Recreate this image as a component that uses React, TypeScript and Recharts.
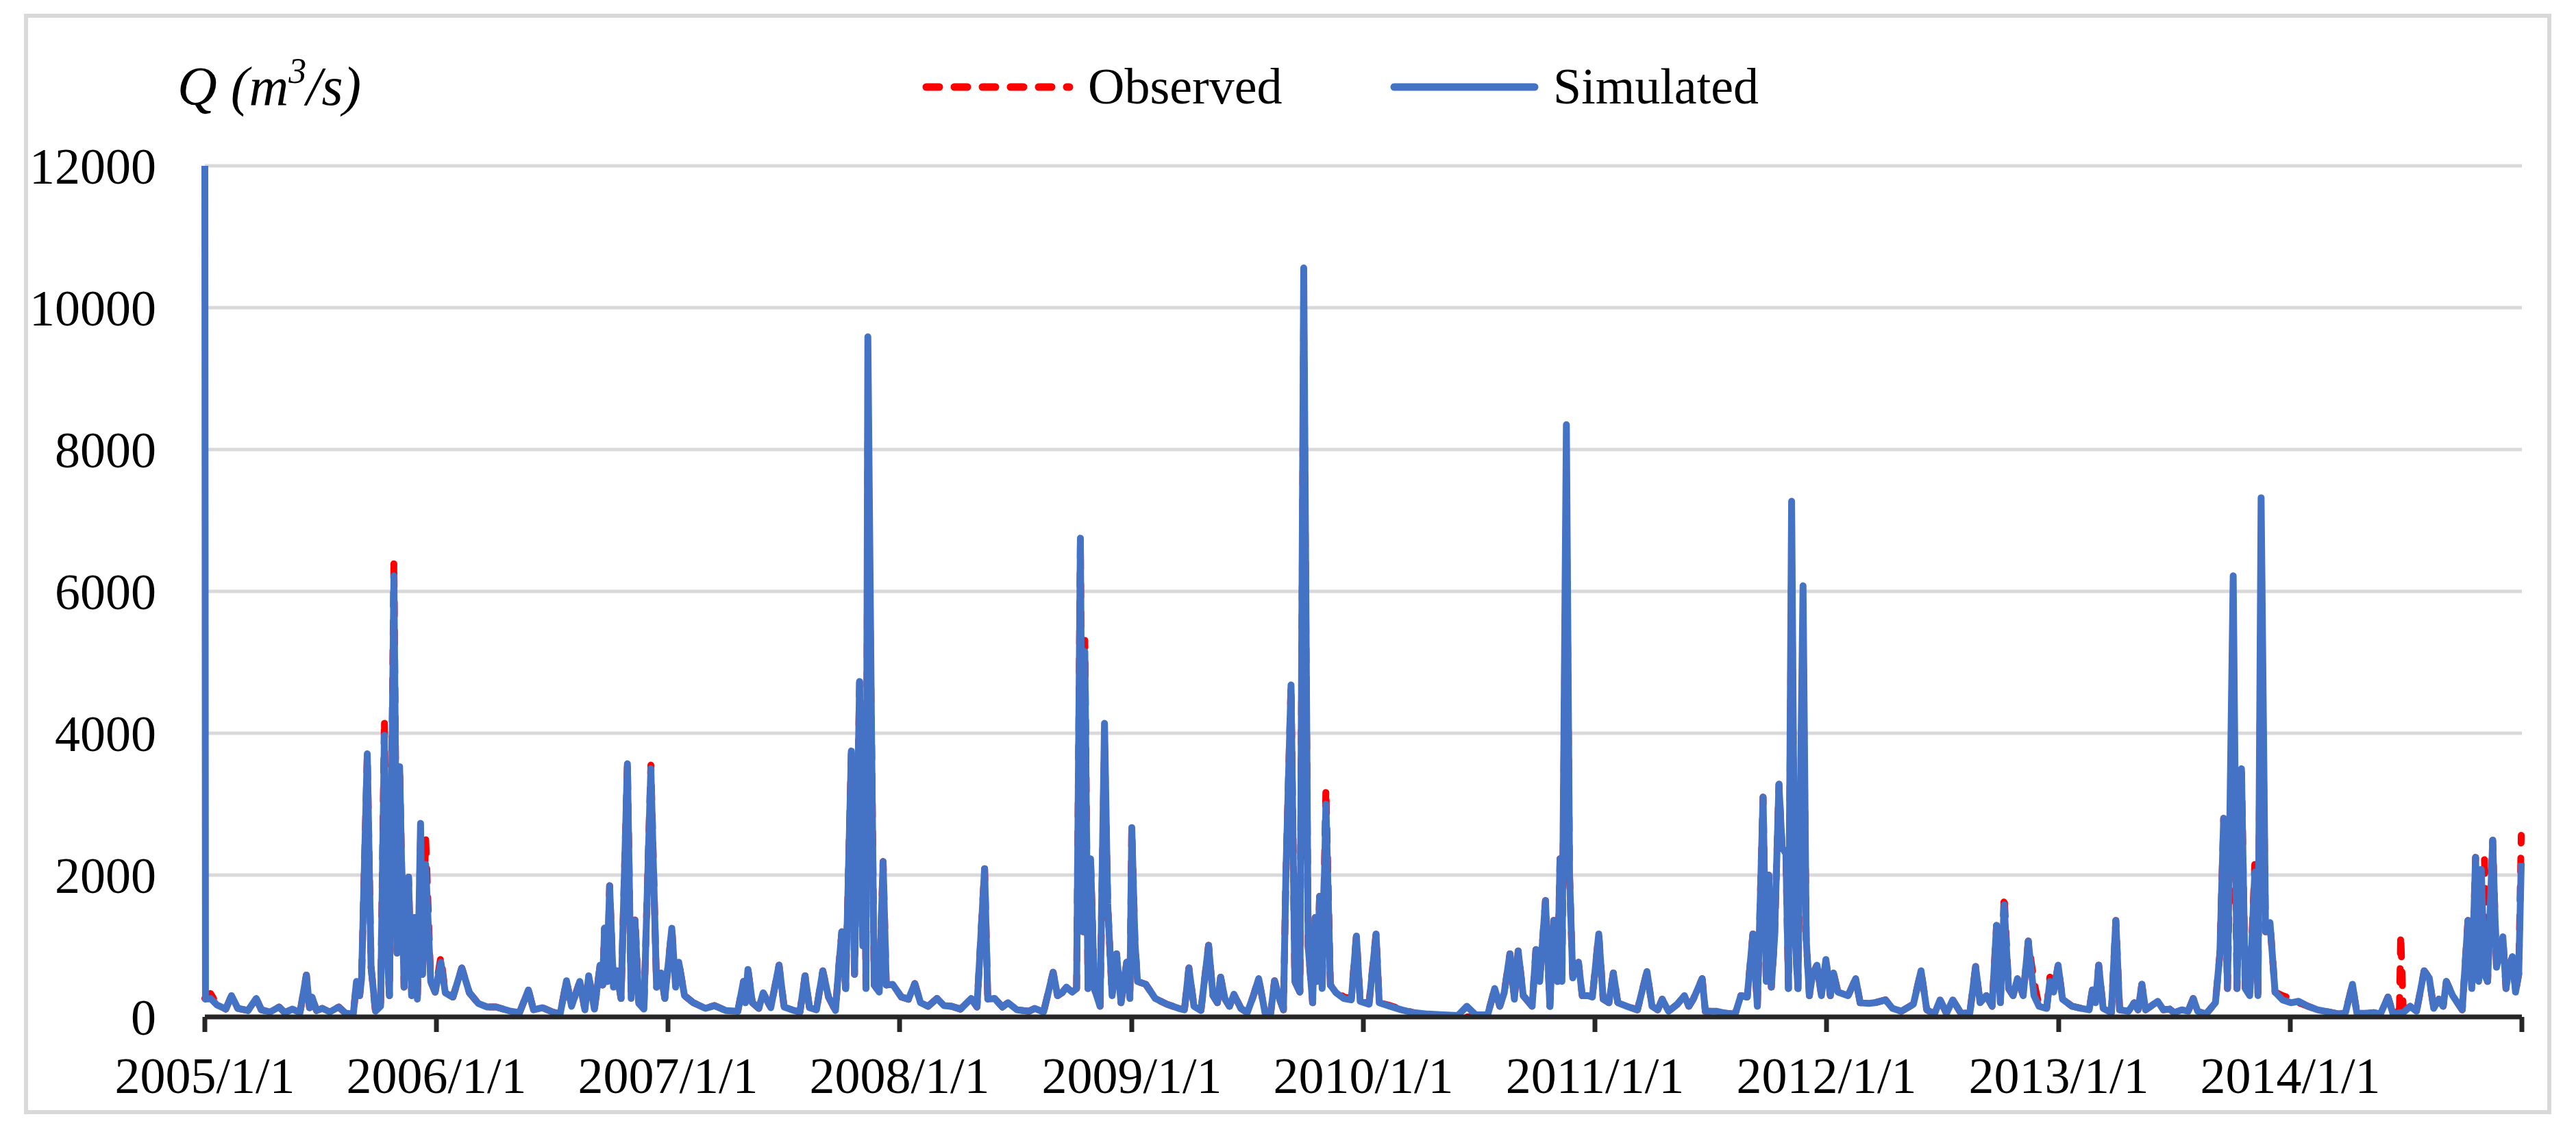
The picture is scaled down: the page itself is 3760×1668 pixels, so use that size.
import React from 'react';
import { LineChart, Line, XAxis, YAxis, CartesianGrid } from 'recharts';

const days = [
  // 2005
  0, 1, 9, 19, 33, 42, 52, 68, 81, 89,
  103, 117, 126, 138, 150, 160, 165, 169, 176, 185,
  197, 211, 222, 234, 239, 244, 247, 256, 262, 269,
  277, 283, 287, 291, 298, 303, 307, 314, 321, 326,
  330, 335, 340, 343, 348, 356, 363,
  // 2006
  372, 379, 391, 405, 417, 431, 445, 459, 482, 496,
  510, 518, 532, 548, 560, 570, 578, 591, 599, 605,
  614, 623, 627, 630, 634, 638, 644, 649, 656, 666,
  672, 678, 684, 692, 703, 712, 719, 725,
  // 2007
  736, 742, 747, 756, 770, 789, 803, 821, 840, 849,
  852, 856, 863, 873, 880, 892, 905, 913, 929, 938,
  946, 953, 964, 974, 983, 994, 999, 1004, 1010, 1019,
  1024, 1032, 1037, 1040, 1042, 1045, 1051, 1055, 1063, 1069,
  1074, 1084,
  // 2008
  1098, 1109, 1119, 1128, 1140, 1154, 1165, 1177, 1191, 1208,
  1217, 1229, 1234, 1245, 1257, 1266, 1280, 1299, 1308, 1322,
  1337, 1344, 1351, 1358, 1367, 1374, 1380, 1384, 1387, 1392,
  1396, 1402, 1411, 1418, 1423, 1430, 1437, 1444, 1453, 1458,
  // 2009
  1461, 1466, 1470, 1483, 1498, 1516, 1535, 1544, 1551, 1559,
  1570, 1582, 1589, 1596, 1601, 1608, 1615, 1622, 1633, 1643,
  1652, 1661, 1671, 1680, 1686, 1694, 1700, 1704, 1712, 1718,
  1726, 1732, 1739, 1746, 1750, 1753, 1757, 1761, 1767, 1774,
  1783, 1795, 1807, 1815, 1821,
  // 2010
  1835, 1846, 1851, 1868, 1886, 1905, 1928, 1952, 1975, 1989,
  2003, 2022, 2033, 2041, 2048, 2057, 2064, 2070, 2078, 2092,
  2098, 2104, 2113, 2120, 2126, 2132, 2136, 2139, 2146, 2151,
  2156, 2165, 2171, 2180, 2187,
  // 2011
  2197, 2204, 2213, 2220, 2227, 2241, 2258, 2273, 2281, 2290,
  2297, 2307, 2321, 2332, 2339, 2346, 2360, 2365, 2382, 2398,
  2412, 2421, 2431, 2440, 2447, 2456, 2461, 2465, 2469, 2474,
  2481, 2486, 2492, 2496, 2501, 2506, 2511, 2519, 2524, 2529,
  2534, 2541, 2548, 2555,
  // 2012
  2562, 2567, 2574, 2590, 2602, 2609, 2623, 2632, 2649, 2660,
  2674, 2693, 2705, 2714, 2726, 2735, 2745, 2755, 2768, 2782,
  2791, 2798, 2808, 2817, 2824, 2830, 2836, 2843, 2850, 2857,
  2866, 2874, 2883, 2891, 2903, 2908, 2914, 2921,
  // 2013
  2928, 2943, 2958, 2970, 2975, 2980, 2985, 2992, 3005, 3012,
  3018, 3032, 3041, 3047, 3053, 3059, 3067, 3078, 3087, 3097,
  3104, 3116, 3126, 3134, 3141, 3154, 3169, 3176, 3182, 3188,
  3197, 3203, 3210, 3216, 3223, 3231, 3236, 3241, 3248, 3255,
  3263, 3275,
  // 2014
  3288, 3300, 3315, 3330, 3347, 3364, 3374, 3385, 3392, 3409,
  3419, 3429, 3441, 3449, 3459, 3461, 3465, 3476, 3486, 3498,
  3506, 3513, 3521, 3528, 3533, 3543, 3558, 3567, 3573, 3579,
  3584, 3588, 3593, 3598, 3606, 3612, 3617, 3622, 3627, 3632,
  3637, 3642, 3647, 3651,
];

const observed = [
  // 2005
  260, 280, 330, 180, 110, 300, 120, 90, 260, 100,
  70, 140, 60, 110, 60, 590, 130, 280, 90, 120,
  70, 140, 50, 40, 480, 300, 540, 3700, 700, 60,
  150, 4200, 1000, 300, 6430, 900, 3530, 420, 1970, 300,
  1400, 250, 2500, 600, 2550, 500, 350,
  // 2006
  850, 340, 280, 690, 340, 190, 140, 140, 80, 60,
  380, 100, 130, 70, 40, 510, 150, 500, 100, 580,
  110, 730, 450, 1250, 500, 1850, 420, 650, 260, 3570,
  260, 1400, 190, 110, 3550, 420, 620, 260,
  // 2007
  1250, 420, 770, 300, 200, 120, 160, 90, 80, 500,
  200, 670, 200, 120, 340, 130, 730, 140, 90, 70,
  580, 130, 100, 650, 280, 90, 690, 1200, 400, 3750,
  600, 4730, 1000, 3500, 400, 8100, 3810, 450, 350, 2190,
  450, 460,
  // 2008
  280, 250, 470, 200, 150, 260, 160, 150, 110, 260,
  140, 2090, 250, 260, 140, 200, 100, 80, 120, 70,
  630, 300, 340, 420, 350, 400, 6700, 1200, 5310, 400,
  2230, 400, 150, 3850, 1600, 300, 890, 200, 770, 260,
  // 2009
  2650, 1050, 500, 460, 260, 180, 120, 100, 690, 150,
  90, 1010, 300, 200, 560, 250, 150, 320, 120, 60,
  280, 540, 60, 60, 510, 250, 100, 2040, 4680, 500,
  350, 9800, 1000, 200, 1400, 500, 1700, 400, 3220, 450,
  380, 280, 260, 1140, 220,
  // 2010
  200, 1170, 200, 160, 110, 60, 20, 0, 0, 0,
  10, 30, 400, 150, 340, 890, 250, 930, 300, 150,
  950, 500, 1640, 150, 1360, 500, 2230, 500, 7400, 2000,
  550, 770, 300, 300, 280,
  // 2011
  1170, 250, 200, 620, 200, 150, 100, 640, 150, 100,
  250, 80, 180, 300, 150, 250, 540, 80, 80, 50,
  40, 300, 280, 1170, 150, 3100, 500, 2000, 420, 1100,
  3280, 2390, 2300, 400, 6400, 1200, 400, 5300, 1100, 300,
  600, 730, 300, 810,
  // 2012
  300, 620, 350, 300, 540, 200, 190, 200, 240, 120,
  80, 180, 650, 100, 40, 240, 50, 240, 50, 60,
  710, 200, 300, 150, 1290, 200, 1720, 400, 300, 540,
  300, 1070, 500, 150, 120, 560, 350, 730,
  // 2013
  250, 150, 120, 100, 380, 200, 730, 120, 60, 1360,
  100, 80, 200, 100, 460, 100, 150, 220, 100, 110,
  60, 100, 80, 260, 80, 40, 200, 890, 2800, 400,
  4700, 400, 3500, 400, 300, 2150, 300, 6100, 1200, 1330,
  350, 300,
  // 2014
  260, 200, 150, 100, 70, 40, 60, 460, 50, 50,
  60, 40, 280, 40, 100, 1170, 100, 150, 80, 650,
  550, 120, 250, 150, 500, 300, 100, 1360, 400, 2250,
  500, 2080, 2230, 500, 2490, 700, 900, 1130, 400, 700,
  850, 350, 600, 2560,
];

const simulated = [
  // 2005
  12000, 250, 260, 170, 110, 300, 120, 90, 260, 100,
  70, 140, 60, 110, 60, 590, 130, 280, 90, 120,
  70, 140, 50, 40, 500, 300, 540, 3710, 700, 80,
  150, 3970, 1000, 300, 6220, 900, 3530, 420, 1970, 300,
  1400, 250, 2730, 600, 2150, 500, 350,
  // 2006
  770, 340, 280, 690, 340, 190, 140, 140, 80, 60,
  380, 100, 130, 70, 40, 510, 150, 500, 100, 580,
  110, 730, 450, 1250, 500, 1850, 420, 650, 260, 3570,
  260, 1360, 190, 110, 3500, 420, 620, 260,
  // 2007
  1250, 420, 770, 300, 200, 120, 160, 90, 80, 500,
  200, 670, 200, 120, 340, 130, 730, 140, 90, 70,
  580, 130, 100, 650, 280, 90, 690, 1200, 400, 3750,
  600, 4730, 1000, 3500, 400, 9590, 3810, 450, 350, 2190,
  450, 460,
  // 2008
  280, 250, 470, 200, 150, 260, 160, 150, 110, 260,
  140, 2090, 250, 260, 140, 200, 100, 80, 120, 70,
  630, 300, 340, 420, 350, 400, 6750, 1200, 5150, 400,
  2230, 400, 150, 4140, 1600, 300, 890, 200, 770, 260,
  // 2009
  2670, 1050, 500, 460, 260, 180, 120, 100, 690, 150,
  90, 1010, 300, 200, 560, 250, 150, 320, 120, 60,
  280, 540, 60, 60, 510, 250, 100, 2040, 4680, 500,
  350, 10560, 1000, 200, 1400, 500, 1700, 400, 3000, 450,
  340, 260, 240, 1140, 220,
  // 2010
  180, 1170, 200, 150, 100, 60, 40, 30, 20, 150,
  30, 30, 400, 150, 340, 890, 250, 930, 300, 150,
  950, 500, 1640, 150, 1360, 500, 2230, 500, 8350, 2000,
  550, 770, 300, 300, 280,
  // 2011
  1170, 250, 200, 620, 200, 150, 100, 640, 150, 100,
  250, 80, 180, 300, 150, 250, 540, 80, 80, 50,
  40, 300, 280, 1170, 150, 3100, 500, 2000, 420, 1100,
  3280, 2390, 2300, 400, 7270, 1200, 400, 6080, 1100, 300,
  600, 730, 300, 810,
  // 2012
  300, 620, 350, 300, 540, 200, 190, 200, 240, 120,
  80, 180, 650, 100, 40, 240, 50, 240, 50, 60,
  710, 200, 300, 150, 1290, 200, 1580, 400, 300, 540,
  300, 1070, 300, 150, 120, 500, 350, 730,
  // 2013
  250, 150, 120, 100, 380, 200, 730, 120, 60, 1360,
  100, 80, 200, 100, 460, 100, 150, 220, 100, 110,
  60, 100, 80, 260, 80, 40, 200, 890, 2800, 400,
  6220, 400, 3500, 400, 300, 2040, 300, 7320, 1200, 1330,
  350, 240,
  // 2014
  200, 220, 150, 100, 70, 40, 60, 460, 50, 50,
  60, 40, 280, 40, 60, 60, 60, 150, 80, 650,
  550, 120, 250, 150, 500, 300, 100, 1360, 400, 2250,
  500, 2080, 600, 500, 2490, 700, 900, 1130, 400, 700,
  850, 350, 600, 2170,
];

const yearTicks = [0, 365, 730, 1095, 1461, 1826, 2191, 2556, 2922, 3287, 3652];
const tickLabels = [
  '2005/1/1', '2006/1/1', '2007/1/1', '2008/1/1', '2009/1/1',
  '2010/1/1', '2011/1/1', '2012/1/1', '2013/1/1', '2014/1/1', '',
];
const yTicks = [0, 2000, 4000, 6000, 8000, 10000, 12000];

const data = days.map((d, i) => ({ day: d, observed: observed[i], simulated: simulated[i] }));

const FONT = "'Liberation Serif', 'Times New Roman', serif";
const RED = '#FF0000';
const BLUE = '#4472C4';

export default function App() {
  return (
    <div style={{ position: 'absolute', left: 0, top: 0, width: 3760, height: 1668, background: '#fff' }}>
      <div
        style={{
          position: 'absolute',
          left: 35,
          top: 20,
          width: 3689,
          height: 1606,
          border: '6px solid #D9D9D9',
          boxSizing: 'border-box',
        }}
      />
      <div style={{ position: 'absolute', left: 0, top: 0 }}>
        <LineChart
          width={3760}
          height={1668}
          data={data}
          margin={{ top: 242, right: 79, bottom: 0, left: 0 }}
        >
          <CartesianGrid vertical={false} stroke="#D9D9D9" strokeWidth={5} />
          <XAxis
            type="number"
            dataKey="day"
            domain={[0, 3652]}
            ticks={yearTicks}
            interval={0}
            tickFormatter={(v: number) => tickLabels[yearTicks.indexOf(v)]}
            height={184}
            axisLine={{ stroke: '#262626', strokeWidth: 7 }}
            tickLine={{ stroke: '#262626', strokeWidth: 7 }}
            tickSize={22}
            tickMargin={36}
            tick={{ fill: '#000', fontSize: 74, fontFamily: FONT }}
          />
          <YAxis
            type="number"
            domain={[0, 12000]}
            ticks={yTicks}
            allowDataOverflow
            width={299}
            axisLine={false}
            tickLine={false}
            tickSize={6}
            tickMargin={65}
            tick={{ fill: '#000', fontSize: 74, fontFamily: FONT }}
          />
          <Line
            type="linear"
            dataKey="observed"
            stroke={RED}
            strokeWidth={10}
            strokeDasharray="20 22"
            strokeLinecap="round"
            strokeLinejoin="round"
            dot={false}
            isAnimationActive={false}
          />
          <Line
            type="linear"
            dataKey="simulated"
            stroke={BLUE}
            strokeWidth={10}
            strokeLinejoin="round"
            dot={false}
            isAnimationActive={false}
          />
        </LineChart>
      </div>
      <svg
        width={3760}
        height={1668}
        style={{ position: 'absolute', left: 0, top: 0, pointerEvents: 'none' }}
      >
        <text x={259} y={153} fontFamily={FONT} fontSize={80} fontStyle="italic" fill="#000">
          Q (m<tspan fontSize={52} dy={-32}>3</tspan>
          <tspan dy={32}>/s)</tspan>
        </text>
        <line
          x1={1352}
          x2={1561}
          y1={127}
          y2={127}
          stroke={RED}
          strokeWidth={11}
          strokeDasharray="19 22"
          strokeLinecap="round"
        />
        <text x={1588} y={151} fontFamily={FONT} fontSize={74} fill="#000">
          Observed
        </text>
        <line x1={2035} x2={2240} y1={127} y2={127} stroke={BLUE} strokeWidth={11} strokeLinecap="round" />
        <text x={2267} y={151} fontFamily={FONT} fontSize={74} fill="#000">
          Simulated
        </text>
      </svg>
    </div>
  );
}
